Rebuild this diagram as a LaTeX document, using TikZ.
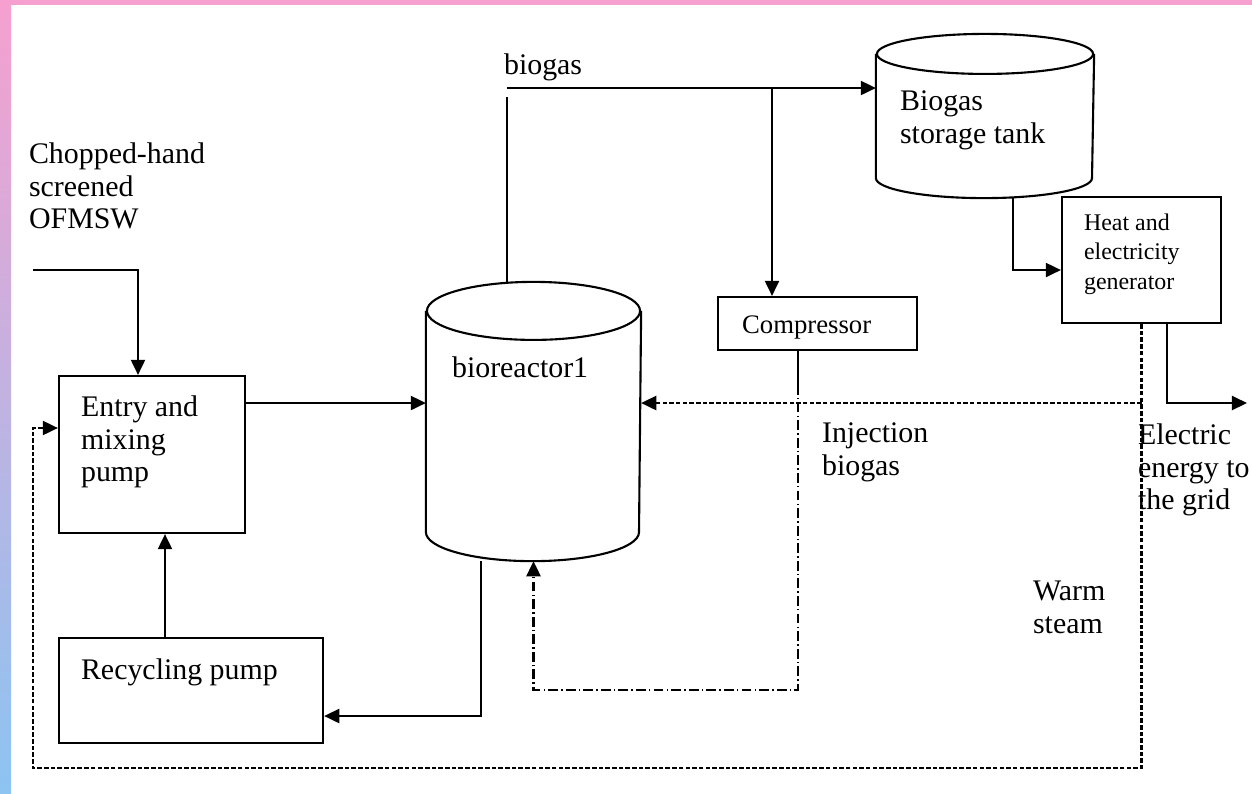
\documentclass[tikz,border=0pt]{standalone}
\usepackage{fontspec}
\setmainfont{Liberation Serif}
\usetikzlibrary{arrows.meta}

\definecolor{pinkband}{HTML}{F6A0CF}
\definecolor{blueband}{HTML}{8CC4F2}

% outline of an upright drum around a node: node, x radius, y radius
\newcommand{\vesseloutline}[3]{%
  \draw ([yshift=-#3]#1.north) ellipse [x radius=#2,y radius=#3];
  \draw ([yshift=-#3]#1.north west) -- ([yshift=#3]#1.south west)
    arc[start angle=180,end angle=360,x radius=#2,y radius=#3]
    -- ([yshift=-#3]#1.north east);}

\begin{document}
\begin{tikzpicture}[x=0.01cm,y=-0.01cm,line width=0.6pt,
    box/.style={draw,rectangle,inner sep=0pt},
    vessel/.style={rectangle,inner sep=0pt},
    txt/.style={anchor=north west,inner sep=0pt,align=left,font=\fontsize{8.5}{9.2}\selectfont},
    flow/.style={-{Triangle[length=4.3pt,width=4pt]}},
    steam/.style={dash pattern=on 1.3pt off 0.6pt},
    inject/.style={dash pattern=on 2.8pt off 0.9pt on 0.4pt off 0.9pt}]
        \useasboundingbox (0,0) rectangle (1252,793);
        \fill[white] (0,0) rectangle (1252,793);
        \fill[pinkband] (0,0) rectangle (1252,5);
        \shade[top color=pinkband,bottom color=blueband] (0,0) rectangle (11,793);

        % units and vessels
        \node[box,minimum width=1.86cm,minimum height=1.57cm] (entry) at (152,454.5) {};
        \node[box,minimum width=2.64cm,minimum height=1.05cm] (recycle) at (191,690.5) {};
        \node[vessel,minimum width=2.13cm,minimum height=2.77cm] (reactor) at (533.5,421.5) {};
        \node[box,minimum width=1.99cm,minimum height=0.53cm] (comp) at (817.5,323.5) {};
        \node[vessel,minimum width=2.16cm,minimum height=1.62cm] (store) at (985,116) {};
        \node[box,minimum width=1.59cm,minimum height=1.26cm] (gen) at (1141.5,260) {};
        \vesseloutline{reactor}{1.065cm}{0.29cm}
        \vesseloutline{store}{1.08cm}{0.2cm}

        % texts
        \node[txt] (feedtxt) at (28,142) {Chopped-hand\\screened\\OFMSW};
        \node[txt] (entrytxt) at (80,395) {Entry and\\mixing\\pump};
        \node[txt] (recycletxt) at (80,658) {Recycling pump};
        \node[txt] (reactortxt) at (451,356) {bioreactor1};
        \node[txt] (gastxt) at (503,53) {biogas};
        \node[txt,font=\fontsize{7.6}{9}\selectfont] (comptxt) at (741,315) {Compressor};
        \node[txt] (storetxt) at (899,90) {Biogas\\storage tank};
        \node[txt,font=\fontsize{6.8}{8.3}\selectfont] (gentxt) at (1083,213) {Heat and\\electricity\\generator};
        \node[txt] (injtxt) at (821,422) {Injection\\biogas};
        \node[txt] (gridtxt) at (1137,423) {Electric\\energy to\\the grid};
        \node[txt] (steamtxt) at (1032,580) {Warm\\steam};

        % route points
        \coordinate (feed) at (33,270);
        \coordinate (feedbend) at (138,270);
        \coordinate (row) at (0,403);
        \coordinate (rise) at (165,0);
        \coordinate (drain) at (481,716);
        \coordinate (gasup) at (507,97);
        \coordinate (gasrow) at (507,88);
        \coordinate (gastap) at (772,88);
        \coordinate (grid) at (1247,403);
        \coordinate (steamturn) at (33,768);
        \coordinate (injsplit) at (798,385);
        \coordinate (injturn) at (798,690);

        % material and gas lines
        \draw[flow] (feed) -- (feedbend) -- (feedbend |- entry.north);
        \draw[flow] (entry.east |- row) -- (reactor.west |- row);
        \draw[flow] (rise |- recycle.north) -- (rise |- entry.south);
        \draw[flow] (drain |- reactor.south) -- (drain) -- (recycle.east |- drain);
        \draw ([yshift=-0.01cm]gasup |- reactor.north) -- (gasup);
        \draw[flow] (gasrow) -- (store.west |- gasrow);
        \draw[flow] (gastap) -- (gastap |- comp.north);
        \draw[flow] ([xshift=0.28cm,yshift=0.01cm]store.south) |- ([yshift=-0.1cm]gen.west);
        \draw[flow] ([xshift=0.255cm]gen.south) |- (grid);

        % steam return
        \draw[steam,flow] (gen.south) -- (gen.south |- steamturn) -- (steamturn) |- ([yshift=0.265cm]entry.west);
        \draw[steam,flow] (gen.south |- row) -- (reactor.east |- row);

        % injection biogas
        \draw (injsplit |- comp.south) -- (injsplit);
        \draw[inject,flow] (injsplit) -- (injturn) -| (reactor.south);
    \end{tikzpicture}
\end{document}
